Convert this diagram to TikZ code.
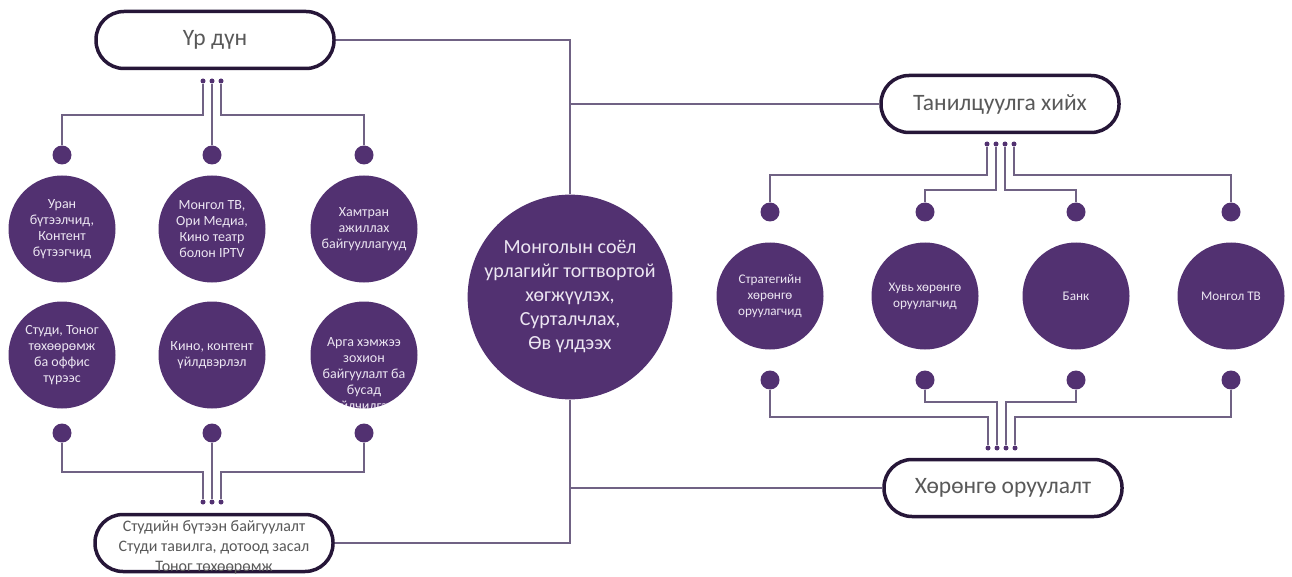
\documentclass[tikz,border=0pt]{standalone}
\usepackage{fontspec}
\setmainfont{Carlito}
\usetikzlibrary{positioning,calc,backgrounds}

\definecolor{plum}{RGB}{82,49,113}
\definecolor{darkplum}{RGB}{38,22,56}
\definecolor{wiregray}{RGB}{112,98,132}
\definecolor{pilltext}{RGB}{89,89,89}
\definecolor{dottext}{RGB}{236,230,242}

\begin{document}
\begin{tikzpicture}[
    x=1pt, y=-1pt,
    pill/.style={rectangle, rounded corners=28pt, draw=darkplum, line width=3.5pt,
                 fill=white, minimum width=238pt, minimum height=57pt,
                 text=pilltext, font=\fontsize{23.5}{27}\selectfont},
    bigdot/.style={circle, fill=plum, minimum size=107pt, inner sep=0pt,
                   text=dottext, align=center, font=\fontsize{14}{16}\selectfont},
    hub/.style={circle, fill=plum, minimum size=202pt, inner sep=0pt,
                text=dottext, align=center, font=\fontsize{20}{24}\selectfont},
    dot/.style={circle, fill=plum, minimum size=19pt, inner sep=0pt},
    pin/.style={circle, fill=plum, minimum size=5pt, inner sep=0pt},
    wire/.style={draw=wiregray, line width=1.2pt},
    small/.style={font=\fontsize{13.2}{16}\selectfont}
]
\useasboundingbox (0,0) rectangle (1292,577);

% Center
\node[hub] (main) at (570,297) {Монголын соёл\\урлагийг тогтвортой\\хөгжүүлэх,\\Сурталчлах,\\Өв үлдээх};

% Left side: results
\node[pill] (result) at (215,40) {Үр дүн};
\node[pill] (studio) at (214,543) {};
\node[text=pilltext, align=center, font=\fontsize{16}{20}\selectfont] (studiotext) at (214,547)
    {Студийн бүтээн байгуулалт\\Студи тавилга, дотоод засал\\Тоног төхөөрөмж};

\foreach \i/\x in {1/203, 2/212, 3/221} {
    \node[pin] (rp\i) at (\x,81) {};
    \node[pin] (sp\i) at (\x,502) {};
}
\foreach \i/\x in {1/62, 2/212, 3/364} {
    \node[dot] (rd\i) at (\x,155) {};
    \node[dot] (sd\i) at (\x,433) {};
}

\node[bigdot] (ra1) at (62,229) {Уран\\бүтээлчид,\\Контент\\бүтээгчид};
\node[bigdot] (ra2) at (212,229) {Монгол ТВ,\\Ори Медиа,\\Кино театр\\болон IPTV};
\node[bigdot] (ra3) at (364,229) {Хамтран\\ажиллах\\байгууллагууд};
\node[bigdot] (ra4) at (62,355) {Студи, Тоног\\төхөөрөмж\\ба оффис\\түрээс};
\node[bigdot] (ra5) at (212,355) {Кино, контент\\үйлдвэрлэл};
\node[bigdot] (ra6) at (364,355) {};
\begin{scope}
    \clip (ra6.center) circle (53.5pt);
    \node[text=dottext, align=center, font=\fontsize{14}{16}\selectfont] (ra6text) at (364,375)
        {Арга хэмжээ\\зохион\\байгуулалт ба\\бусад\\үйлчилгээ};
\end{scope}

% Right side: investment
\node[pill] (intro) at (1000,104) {Танилцуулга хийх};
\node[pill] (invest) at (1003,488) {Хөрөнгө оруулалт};

\foreach \i/\x in {1/987, 2/996, 3/1005, 4/1014} {
    \node[pin] (ip\i) at (\x,144) {};
    \node[pin] (vp\i) at (\x+1,448) {};
}
\foreach \i/\x in {1/770, 2/925, 3/1076, 4/1231} {
    \node[dot] (id\i) at (\x,212) {};
    \node[dot] (vd\i) at (\x,380) {};
}

\node[bigdot, small] (ia1) at (770,296) {Стратегийн\\хөрөнгө\\оруулагчид};
\node[bigdot, small] (ia2) at (925,296) {Хувь хөрөнгө\\оруулагчид};
\node[bigdot, small] (ia3) at (1076,296) {Банк};
\node[bigdot, small] (ia4) at (1231,296) {Монгол ТВ};

% Connectors
\begin{scope}[on background layer]
\draw[wire] (result) -| (main.north);
\draw[wire] (studio) -| (main.south);
\draw[wire] (main) |- (intro);
\draw[wire] (main) |- (invest);

\draw[wire] (rp1) -- (rp1 |- 0,115) -| (rd1);
\draw[wire] (rp2) -- (rd2);
\draw[wire] (rp3) -- (rp3 |- 0,115) -| (rd3);
\draw[wire] (sd1) |- (0,472 -| sp1) -- (sp1);
\draw[wire] (sd2) -- (sp2);
\draw[wire] (sd3) |- (0,472 -| sp3) -- (sp3);

\draw[wire] (ip1) -- (ip1 |- 0,175) -| (id1);
\draw[wire] (ip2) -- (ip2 |- 0,190) -| (id2);
\draw[wire] (ip3) -- (ip3 |- 0,190) -| (id3);
\draw[wire] (ip4) -- (ip4 |- 0,175) -| (id4);
\draw[wire] (vd1) |- (0,417 -| vp1) -- (vp1);
\draw[wire] (vd2) |- (0,402 -| vp2) -- (vp2);
\draw[wire] (vd3) |- (0,402 -| vp3) -- (vp3);
\draw[wire] (vd4) |- (0,417 -| vp4) -- (vp4);
\end{scope}

\end{tikzpicture}
\end{document}
